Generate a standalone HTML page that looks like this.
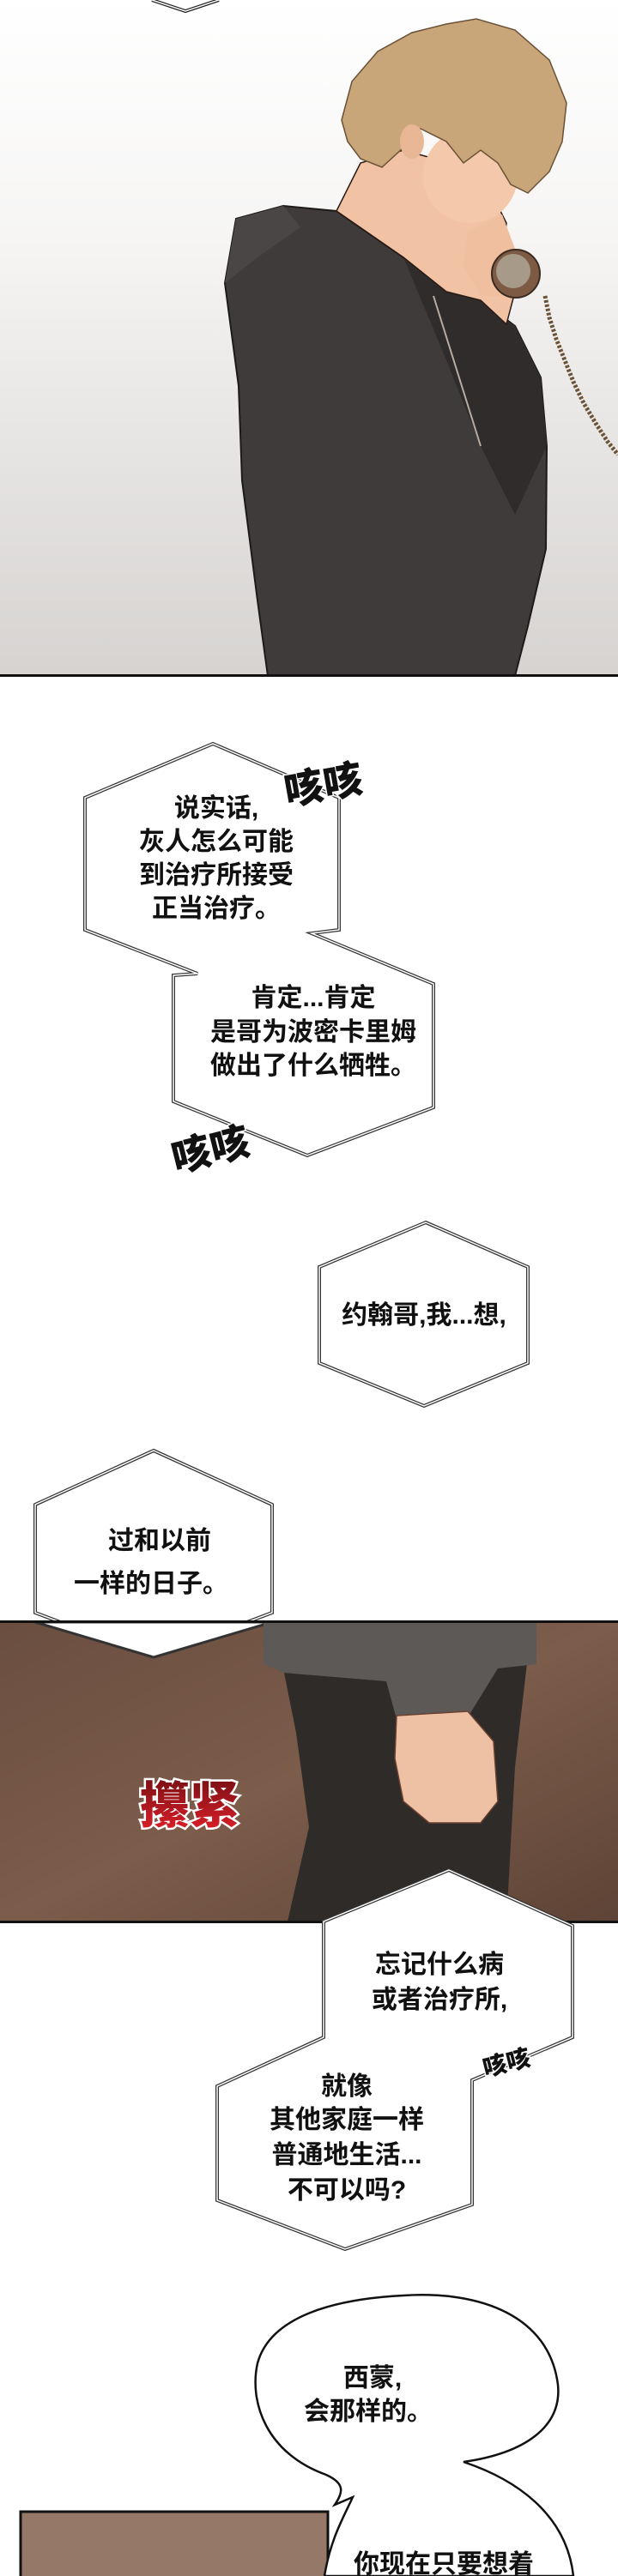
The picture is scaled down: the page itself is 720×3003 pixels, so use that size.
<!DOCTYPE html>
<html><head><meta charset="utf-8"><style>
html,body{margin:0;padding:0;background:#fff}
svg{display:block}
.t{font-family:"Liberation Sans","Noto Sans CJK SC",sans-serif;font-weight:700;font-size:30px;fill:#111;text-anchor:middle}
.sfx{font-family:"Liberation Sans","Noto Sans CJK SC",sans-serif;font-weight:900;fill:#111;stroke:#fff;stroke-width:3;paint-order:stroke}
</style></head><body>
<svg width="720" height="3003" viewBox="0 0 720 3003" xmlns="http://www.w3.org/2000/svg">
<defs>
<linearGradient id="g1" x1="0" y1="0" x2="0" y2="1">
<stop offset="0" stop-color="#ffffff"/><stop offset="0.35" stop-color="#f6f5f4"/><stop offset="1" stop-color="#d6d3d1"/>
</linearGradient>
<linearGradient id="g2" x1="0" y1="0" x2="1" y2="1">
<stop offset="0" stop-color="#6a4e40"/><stop offset="0.5" stop-color="#7c5c4b"/><stop offset="1" stop-color="#5e4436"/>
</linearGradient>
<linearGradient id="red" x1="0" y1="0" x2="0" y2="1">
<stop offset="0" stop-color="#7a0f14"/><stop offset="1" stop-color="#e0202a"/>
</linearGradient>
</defs>

<!-- Panel 1 -->
<rect x="0" y="0" width="720" height="788" fill="url(#g1)"/>
<polyline points="177,0 216,13 255,0" fill="none" stroke="#222" stroke-width="4"/>
<polyline points="177,0 216,13 255,0" fill="none" stroke="#fff" stroke-width="1.5"/>
<!-- hoodie -->
<path d="M275,255 L330,240 L392,246 L470,300 L560,350 L600,380 L630,440 L637,520 L636,640 L615,730 L600,788 L312,788 L300,700 L282,560 L278,450 L262,330 Z" fill="#3e3b3a" stroke="#1c1a1a" stroke-width="2"/>
<path d="M262,330 L275,255 L330,240 L350,265 L300,300 Z" fill="#4a4645"/>
<path d="M470,300 L560,350 L600,380 L630,440 L637,520 L600,600 L560,520 L520,420 Z" fill="#302c2b"/>
<line x1="505" y1="345" x2="560" y2="520" stroke="#b8aaa0" stroke-width="2"/>
<!-- neck & face -->
<path d="M392,246 L420,190 L470,175 L560,200 L590,260 L585,300 L600,340 L590,378 L560,350 L520,340 L470,300 Z" fill="#f2c2a4" stroke="#2a1a14" stroke-width="1.5"/>
<ellipse cx="548" cy="205" rx="55" ry="55" fill="#f4c8aa"/>
<!-- hair -->
<path d="M398,140 L410,95 L440,60 L480,38 L520,28 L555,22 L600,35 L640,70 L660,120 L655,165 L640,200 L615,225 L595,215 L580,190 L560,175 L540,190 L520,165 L490,150 L470,172 L445,195 L420,185 L405,165 Z" fill="#c8a679" stroke="#6b5237" stroke-width="1.5"/>
<ellipse cx="480" cy="165" rx="14" ry="20" fill="#e9b696"/>
<!-- hand + phone -->
<path d="M545,270 L585,250 L600,290 L590,345 L560,345 L540,310 Z" fill="#f0bfa0"/>
<circle cx="601" cy="319" r="28" fill="#7d5a44" stroke="#3a2a20" stroke-width="2"/>
<circle cx="598" cy="316" r="20" fill="#a89a88"/>
<polyline points="635,345 640,370 648,395 658,420 668,445 680,470 695,495 708,515 720,530" fill="none" stroke="#6a5236" stroke-width="5" stroke-dasharray="3,2"/>
<rect x="0" y="786" width="720" height="3" fill="#111"/>

<!-- Bubble 1+2 -->
<polygon points="248,867 395,930 395,1084 363,1088 505,1147 505,1291 358,1347 202,1284 202,1137 230,1135 99,1084 99,930" fill="#fff" stroke="#333" stroke-width="4"/>
<polygon points="248,867 395,930 395,1084 363,1088 505,1147 505,1291 358,1347 202,1284 202,1137 230,1135 99,1084 99,930" fill="none" stroke="#fff" stroke-width="1.5"/>
<text class="t" x="252" y="952">说实话,</text>
<text class="t" x="252" y="991">灰人怎么可能</text>
<text class="t" x="252" y="1030">到治疗所接受</text>
<text class="t" x="252" y="1069">正当治疗。</text>
<text class="t" x="365" y="1173">肯定...肯定</text>
<text class="t" x="365" y="1213">是哥为波密卡里姆</text>
<text class="t" x="365" y="1252">做出了什么牺牲。</text>
<text class="sfx" font-size="46" x="330" y="930" transform="rotate(-10 383 910)">咳咳</text>
<text class="sfx" font-size="46" x="197" y="1355" transform="rotate(-14 250 1330)">咳咳</text>

<!-- Bubble 3 -->
<polygon points="496,1425 615,1477 615,1589 494,1639 372,1589 372,1477" fill="#fff" stroke="#333" stroke-width="4"/>
<polygon points="496,1425 615,1477 615,1589 494,1639 372,1589 372,1477" fill="none" stroke="#fff" stroke-width="1.5"/>
<text class="t" x="494" y="1543">约翰哥,我...想,</text>

<!-- Bubble 4 -->
<polygon points="179,1691 317,1754 317,1880 179,1932 41,1880 41,1754" fill="#fff" stroke="#333" stroke-width="4"/>
<polygon points="179,1691 317,1754 317,1880 179,1932 41,1880 41,1754" fill="none" stroke="#fff" stroke-width="1.5"/>
<text class="t" x="186" y="1806">过和以前</text>
<text class="t" x="176" y="1856">一样的日子。</text>

<!-- Panel 2 -->
<rect x="0" y="1891" width="720" height="350" fill="url(#g2)"/>
<polygon points="41,1891 179,1932 317,1891" fill="#fff" stroke="#333" stroke-width="3"/>
<polygon points="330,1945 615,1930 600,2060 590,2240 335,2240 360,2130 345,2020" fill="#2e2b28"/>
<polygon points="307,1892 625,1892 625,1940 580,1945 540,2010 465,2015 450,1960 330,1950 307,1940" fill="#5c5957"/>
<path d="M462,2000 L545,1995 L575,2030 L580,2100 L560,2125 L500,2125 L470,2100 L460,2050 Z" fill="#eec1a4" stroke="#6a4030" stroke-width="1.5"/>
<text x="163" y="2125" font-family="'Liberation Sans','Noto Sans CJK SC',sans-serif" font-weight="900" font-size="58" fill="url(#red)" stroke="#fff" stroke-width="5" paint-order="stroke">攥紧</text>
<rect x="0" y="1889" width="720" height="3" fill="#111"/>
<rect x="0" y="2239" width="720" height="3" fill="#111"/>

<!-- Bubble 5+6 -->
<polygon points="523,2180 667,2245 667,2375 550,2425 550,2570 402,2622 253,2565 253,2432 377,2375 377,2240" fill="#fff" stroke="#333" stroke-width="4"/>
<polygon points="523,2180 667,2245 667,2375 550,2425 550,2570 402,2622 253,2565 253,2432 377,2375 377,2240" fill="none" stroke="#fff" stroke-width="1.5"/>
<text class="t" x="512" y="2300">忘记什么病</text>
<text class="t" x="512" y="2341">或者治疗所,</text>
<text class="t" x="404" y="2442">就像</text>
<text class="t" x="404" y="2481">其他家庭一样</text>
<text class="t" x="404" y="2522">普通地生活...</text>
<text class="t" x="404" y="2563">不可以吗?</text>
<text class="sfx" font-size="28" x="562" y="2414" transform="rotate(-14 592 2404)">咳咳</text>

<!-- bottom panel -->
<rect x="24" y="2928" width="358" height="80" fill="#957868" stroke="#111" stroke-width="3"/>
<!-- round bubble -->
<path d="M470,2676 C560,2670 640,2700 650,2780 C655,2830 610,2860 540,2870 C600,2890 660,2930 668,3003 L378,3003 C385,2960 400,2935 411,2911 L390,2920 C400,2905 402,2895 380,2885 C310,2860 290,2800 300,2755 C315,2700 390,2680 470,2676 Z" fill="#fff" stroke="#111" stroke-width="2.5"/>
<text class="t" x="434" y="2782">西蒙,</text>
<text class="t" x="429" y="2821">会那样的。</text>
<text class="t" x="517" y="2999">你现在只要想着</text>
</svg>
</body></html>
